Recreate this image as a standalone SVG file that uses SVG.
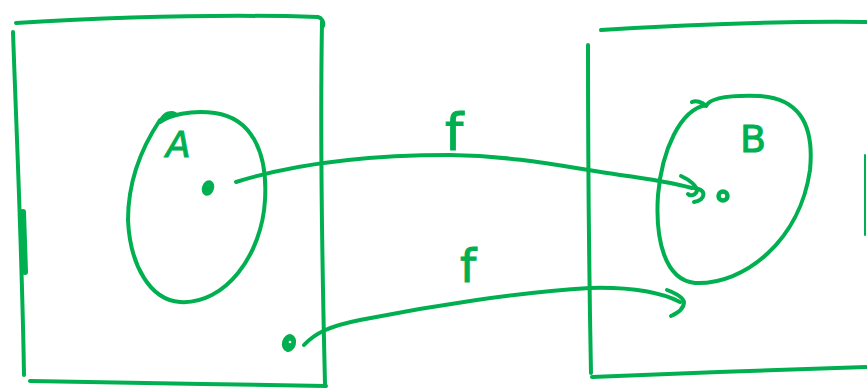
<svg xmlns="http://www.w3.org/2000/svg" width="867" height="389" viewBox="0 0 867 389">
<style>
.ink{fill:none;stroke:#00b050;stroke-width:4;stroke-linecap:round;stroke-linejoin:round}
.dot{fill:#00b050;stroke:#00b050;stroke-width:2}
.lbl{fill:#00b050;font-family:"DejaVu Sans","Liberation Sans",sans-serif}
</style>
<rect width="867" height="389" fill="#ffffff"/>
<g id="boxA">
<path class="ink" d="M16,23 C100,18 220,14 318,17 C322,18 324,22 323,26"/>
<path class="ink" d="M13,32 C16,120 22,250 24,375"/>
<path class="ink" d="M23,212 L25,272" style="stroke-width:6"/>
<path class="ink" d="M322,22 C320,140 322,260 325,384"/>
<path class="ink" d="M30,381 C120,383 230,384 326,386"/>
</g>
<g id="boxB">
<path class="ink" d="M601,30 C680,25 780,21 866,22"/>
<path class="ink" d="M588,45 C588,150 589,270 591,373"/>
<path class="ink" d="M592,377 C680,373 780,370 866,367"/>
<path class="ink" d="M865,155 L865,235" style="stroke-width:2"/>
</g>
<g id="setA">
<path class="ink" d="M160,120 C140,150 128,185 128,220 C130,265 150,300 180,302 C225,305 262,255 265,200 C268,150 250,118 215,113 C190,110 170,115 160,122 C165,112 172,112 175,114"/>
<text class="lbl" x="166" y="157" font-size="36" font-style="italic" stroke="#00b050" stroke-width="1">A</text>
</g>
<g id="setB">
<path class="ink" d="M706,105 C680,110 662,150 658,195 C655,240 665,280 695,283 C745,285 800,240 810,170 C815,120 795,98 760,96 C730,95 710,98 706,106 C702,102 696,100 692,102"/>
<text class="lbl" x="740" y="152" font-size="38" stroke="#00b050" stroke-width="1">B</text>
</g>
<g id="a">
<ellipse class="dot" cx="208" cy="188" rx="5" ry="7" transform="rotate(20 208 188)"/>
</g>
<g id="b">
<ellipse cx="723" cy="196" rx="4.5" ry="4.5" fill="none" stroke="#00b050" stroke-width="4.5"/>
</g>
<g id="c">
<ellipse class="dot" cx="289" cy="343" rx="6" ry="8" transform="rotate(15 289 343)"/>
<circle cx="290" cy="342" r="1.3" fill="#ffffff"/>
</g>
<g id="connectors">
<path class="ink" d="M236,182 C300,162 380,155 450,155 C520,156 570,168 620,175 C650,179 670,182 692,188"/>
<path class="ink" d="M681,176 C690,180 697,186 697,191 C695,196 690,196 688,194"/>
<path class="ink" d="M694,188 C708,190 705,200 694,202"/>
<path class="ink" d="M304,345 C315,333 330,326 360,320 C430,306 520,292 590,288 C630,287 660,292 680,302"/>
<path class="ink" d="M667,290 C675,293 683,297 684,302 C684,308 680,312 671,316"/>
<text class="lbl" x="445" y="150" font-size="52" stroke="#00b050" stroke-width="1">f</text>
<text class="lbl" x="460" y="282" font-size="46" stroke="#00b050" stroke-width="1">f</text>
</g>
</svg>
